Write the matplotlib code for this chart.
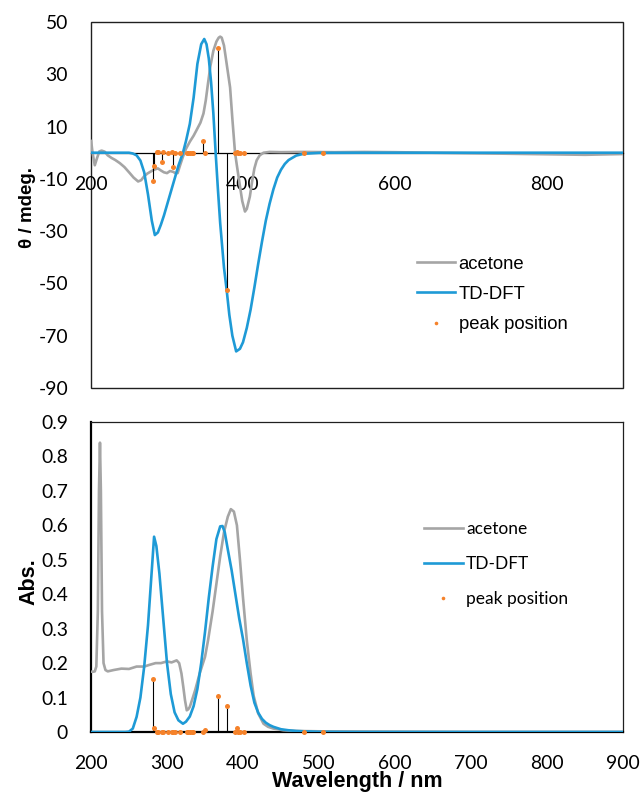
import matplotlib
matplotlib.use("Agg")
import matplotlib.pyplot as plt
from matplotlib.patches import Rectangle
from matplotlib.lines import Line2D

plt.rcParams["axes.unicode_minus"] = False

# ---------------- data ----------------
# CD, acetone (experimental)
cd_exp_wl = [200, 202, 205, 208, 211, 214, 218, 222, 227, 232, 238, 244, 251, 256, 262, 266, 270, 274,
             278, 283, 288, 292, 296, 300, 304, 308, 311, 314, 317, 321, 325, 330, 335, 339, 344, 348,
             351, 354, 357, 361, 365, 368, 370, 372, 375, 378, 381, 383, 386, 389.5, 392, 396, 399,
             402.6, 405, 409, 412, 415, 418, 422, 427, 435, 450, 480, 520, 560, 600, 650, 700, 750,
             800, 850, 900]
cd_exp_val = [5.0, 0.0, -4.8, -2.0, 0.5, 0.8, 0.4, -1.0, -2.0, -2.8, -4.0, -5.5, -7.8, -9.5, -11.0, -10.5,
              -9.0, -8.0, -7.3, -6.5, -6.0, -6.8, -7.5, -7.8, -7.0, -7.3, -7.8, -7.8, -5.0, -1.5, 1.5,
              4.2, 6.5, 8.7, 11.5, 15.0, 20.0, 26.6, 33.0, 39.0, 42.5, 44.0, 44.4, 44.0, 41.0, 35.0,
              29.0, 25.0, 13.0, 0.0, -5.0, -12.8, -18.5, -22.5, -21.5, -16.8, -11.0, -6.0, -2.9, -1.0,
              0.0, 0.3, 0.2, 0.3, 0.2, 0.3, 0.2, 0.0, -0.2, -0.4, -0.6, -0.8, -0.5]

# CD, TD-DFT
cd_calc_wl = [200, 250, 255, 260, 265, 270, 275, 280, 284, 288, 292, 296, 300, 305, 310, 315, 321, 325,
              330, 335, 340, 345, 349, 352, 355, 358, 361, 364, 367, 370, 375, 378.5, 382, 386, 391,
              396, 400, 405, 410, 415, 420, 425, 430, 435, 440, 445, 450, 455, 460, 470, 480, 500, 550, 900]
cd_calc_val = [0.0, 0.0, -0.3, -1.0, -3.0, -7.5, -16.0, -26.0, -31.5, -30.5, -27.5, -24.0, -20.0, -15.0,
               -10.0, -5.0, 0.0, 4.5, 11.0, 21.0, 34.0, 41.5, 43.5, 41.5, 36.0, 27.0, 15.0, 0.0, -14.0,
               -27.0, -44.0, -52.5, -62.0, -70.0, -76.0, -75.0, -72.5, -67.0, -60.0, -51.5, -42.5,
               -34.0, -26.0, -19.5, -14.0, -9.5, -6.5, -4.3, -2.8, -1.1, -0.4, -0.05, 0.0, 0.0]

# Absorption, acetone (experimental)
abs_exp_wl = [200, 203, 205, 207, 209, 210.5, 211.8, 213, 214.5, 216.5, 219, 222, 230, 240, 250, 260,
              270, 277, 285, 292, 300, 306, 312.7, 316, 319, 321.5, 323.7, 326, 328, 330, 334, 337,
              343, 350, 354, 360, 365, 370, 375, 380, 384, 388, 392, 396, 400, 405, 410, 414, 420,
              427, 433, 440, 453, 470, 500, 600, 700, 800, 900]
abs_exp_val = [0.175, 0.175, 0.176, 0.19, 0.35, 0.70, 0.84, 0.70, 0.35, 0.20, 0.18, 0.176, 0.180,
               0.184, 0.183, 0.190, 0.190, 0.195, 0.200, 0.200, 0.205, 0.202, 0.208, 0.200, 0.170,
               0.130, 0.092, 0.063, 0.066, 0.073, 0.100, 0.121, 0.170, 0.218, 0.266, 0.350, 0.430,
               0.510, 0.580, 0.625, 0.647, 0.640, 0.600, 0.500, 0.390, 0.266, 0.170, 0.105, 0.054,
               0.024, 0.015, 0.010, 0.005, 0.003, 0.002, 0.001, 0.0, 0.0, 0.0]

# Absorption, TD-DFT
abs_calc_wl = [200, 245, 250, 255, 260, 265, 270, 275, 280, 283, 286, 290, 295, 300, 305, 310, 315, 321,
               325, 330, 335, 340, 345, 350, 355, 360, 365, 370, 373, 376, 380, 385, 390, 395, 400,
               405, 410, 415, 420, 425, 430, 435, 440, 450, 460, 470, 480, 500, 550, 900]
abs_calc_val = [0.0, 0.0, 0.001, 0.01, 0.044, 0.10, 0.19, 0.31, 0.47, 0.567, 0.54, 0.46, 0.33, 0.20,
                0.11, 0.057, 0.034, 0.024, 0.03, 0.045, 0.075, 0.125, 0.20, 0.29, 0.39, 0.48, 0.56,
                0.597, 0.598, 0.58, 0.53, 0.47, 0.40, 0.33, 0.27, 0.20, 0.135, 0.085, 0.056, 0.038,
                0.027, 0.020, 0.015, 0.008, 0.005, 0.003, 0.002, 0.0005, 0.0, 0.0]

# Computed transitions (peak positions)
peak_wl = [282.0, 282.5, 286.5, 288.5, 293.5, 295, 301, 306, 308, 310.5, 317, 326, 328, 330, 332.5,
           334.6, 347.8, 349.5, 367.5, 378.5, 389.5, 391.7, 394, 396, 401, 480.5, 505.5]
peak_cd = [-11.0, -5.0, 0.4, 0.3, -3.6, 0.2, 0.0, 0.2, -5.6, 0.0, 0.0, 0.0, 0.0, 0.0, 0.0, 0.0, 4.6,
           0.0, 40.2, -52.5, 0.0, 0.3, 0.0, 0.0, 0.0, 0.0, 0.0]
peak_osc = [0.155, 0.013, 0.0, 0.001, 0.0, 0.001, 0.0, 0.0, 0.0, 0.0, 0.0, 0.0, 0.0, 0.0, 0.0, 0.0,
            0.001, 0.005, 0.104, 0.075, 0.0, 0.013, 0.0, 0.0, 0.0, 0.0, 0.0]

cd_yticks = [50, 30, 10, -10, -30, -50, -70, -90]
cd_xticks = [200, 400, 600, 800]
abs_yticks = [0, 0.1, 0.2, 0.3, 0.4, 0.5, 0.6, 0.7, 0.8, 0.9]
abs_xticks = [200, 300, 400, 500, 600, 700, 800, 900]
series_labels = ["acetone", "TD-DFT", "peak position"]

# ---------------- style ----------------
GREY = "#A5A5A5"
BLUE = "#1E9AD6"
ORANGE = "#F5822A"
TICKFONT = "Lato"
W, H = 641, 793

fig = plt.figure(figsize=(W / 100, H / 100), dpi=100)

def ax_rect(l, t, r, b):
    return [l / W, 1 - b / H, (r - l) / W, (b - t) / H]

# ---------------- top: CD ----------------
ax1 = fig.add_axes(ax_rect(91, 22, 623, 388))
ax1.plot(cd_exp_wl, cd_exp_val, color=GREY, lw=1.9, zorder=3, solid_capstyle="butt")
ax1.plot(cd_calc_wl, cd_calc_val, color=BLUE, lw=1.9, zorder=4)
ax1.vlines(peak_wl, 0, peak_cd, color="black", lw=0.8, zorder=5)
ax1.plot(peak_wl, peak_cd, "o", color=ORANGE, ms=3.6, mec="none", zorder=6)
ax1.set_xlim(200, 900)
ax1.set_ylim(-90, 50)
ax1.set_yticks(cd_yticks)
ax1.set_xticks(cd_xticks)
for s in ["top", "right", "left"]:
    ax1.spines[s].set_visible(False)
ax1.spines["bottom"].set_position(("data", 0))
ax1.spines["bottom"].set_linewidth(0.9)
ax1.spines["bottom"].set_zorder(2)
ax1.add_patch(Rectangle((0, 0), 1, 1, transform=ax1.transAxes, fill=False,
                        ec="#202020", lw=1.0, zorder=1, clip_on=False))
ax1.tick_params(axis="both", length=0, labelsize=13.9, pad=16.5)
for lab in ax1.get_xticklabels() + ax1.get_yticklabels():
    lab.set_fontfamily(TICKFONT)

h1 = [Line2D([], [], color=GREY, lw=1.9), Line2D([], [], color=BLUE, lw=1.9),
      Line2D([], [], ls="none", marker="o", color=ORANGE, ms=2.6, mec="none")]
leg1 = ax1.legend(h1, series_labels, loc="upper left", bbox_to_anchor=(0.613, 0.362),
                  frameon=False, prop={"family": "Liberation Sans", "size": 13.3},
                  handlelength=2.05, handletextpad=0.2, labelspacing=0.72, borderaxespad=0,
                  borderpad=0)

# ---------------- bottom: Abs ----------------
ax2 = fig.add_axes(ax_rect(91, 422, 623, 732))
ax2.plot(abs_exp_wl, abs_exp_val, color=GREY, lw=1.9, zorder=3)
ax2.plot(abs_calc_wl, abs_calc_val, color=BLUE, lw=1.9, zorder=4)
ax2.vlines(peak_wl, 0, peak_osc, color="black", lw=0.8, zorder=5)
ax2.plot(peak_wl, peak_osc, "o", color=ORANGE, ms=3.6, mec="none", zorder=6, clip_on=False)
ax2.set_xlim(200, 900)
ax2.set_ylim(0, 0.9)
ax2.set_yticks(abs_yticks)
ax2.set_yticklabels(["0", "0.1", "0.2", "0.3", "0.4", "0.5", "0.6", "0.7", "0.8", "0.9"])
ax2.set_xticks(abs_xticks)
for s in ["top", "right"]:
    ax2.spines[s].set_linewidth(0.9)
    ax2.spines[s].set_color("#202020")
for s in ["left", "bottom"]:
    ax2.spines[s].set_linewidth(1.6)
    ax2.spines[s].set_color("black")
ax2.tick_params(axis="both", length=0, labelsize=13.9, pad=16.5)
for lab in ax2.get_xticklabels() + ax2.get_yticklabels():
    lab.set_fontfamily(TICKFONT)

h2 = [Line2D([], [], color=GREY, lw=1.9), Line2D([], [], color=BLUE, lw=1.9),
      Line2D([], [], ls="none", marker="o", color=ORANGE, ms=2.6, mec="none")]
leg2 = ax2.legend(h2, series_labels, loc="upper left", bbox_to_anchor=(0.625, 0.68),
                  frameon=False, prop={"family": "Lato", "size": 12.5},
                  handlelength=2.3, handletextpad=0.15, labelspacing=1.08, borderaxespad=0,
                  borderpad=0)

# ---------------- axis titles ----------------
fig.text(27 / W, 1 - 208 / H, "θ / mdeg.", rotation=90, ha="center", va="center",
         fontsize=13.5, fontweight="bold", family="Liberation Sans")
fig.text(29 / W, 1 - 582 / H, "Abs.", rotation=90, ha="center", va="center",
         fontsize=15.5, fontweight="bold", family="Liberation Sans")
fig.text(357 / W, 1 - 782 / H, "Wavelength / nm", ha="center", va="center",
         fontsize=15.5, fontweight="bold", family="Liberation Sans")

fig.savefig("out.png", dpi=100)
